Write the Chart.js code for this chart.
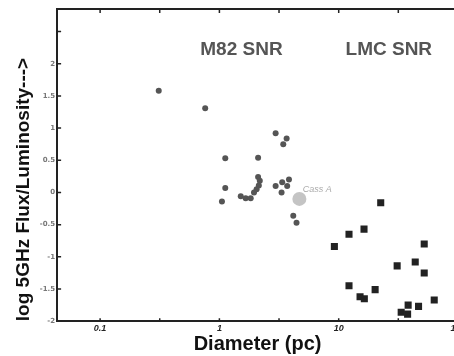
<!DOCTYPE html>
<html>
<head>
<meta charset="utf-8">
<script src="https://cdn.jsdelivr.net/npm/chart.js@4.4.1/dist/chart.umd.min.js"></script>
<style>
  html, body { margin: 0; padding: 0; background: #fff; overflow: hidden; }
  #grafico { display: block; }
</style>
</head>
<body>
<canvas id="grafico" width="470" height="356"></canvas>
<script>
// M82 SNR (circulos): diametro em pc, log fluxo
const m82Diametro = [0.31, 0.76, 1.12, 2.96, 3.66, 3.43, 2.11, 2.11, 2.18, 2.14, 2.05, 1.95, 1.12, 1.05, 1.51, 1.66, 1.83, 2.96, 3.36, 3.83, 3.70, 3.32, 4.16, 4.43];
const m82Fluxo    = [1.58, 1.31, 0.53, 0.92, 0.84, 0.75, 0.54, 0.24, 0.18, 0.11, 0.05, 0.00, 0.07, -0.14, -0.06, -0.09, -0.09, 0.10, 0.16, 0.20, 0.10, 0.00, -0.36, -0.47];

// LMC SNR (quadrados)
const lmcDiametro = [22.5, 12.2, 16.3, 9.2, 52.1, 43.8, 30.9, 52.1, 12.2, 20.2, 15.1, 16.4, 63.2, 46.7, 38.2, 33.4, 37.8];
const lmcFluxo    = [-0.16, -0.65, -0.57, -0.84, -0.80, -1.08, -1.14, -1.25, -1.45, -1.51, -1.62, -1.65, -1.67, -1.77, -1.75, -1.86, -1.89];

// Cas A
const cassDiametro = [4.68];
const cassFluxo = [-0.10];

const xTicks = [0.1, 0.316, 1, 3.16, 10, 31.6, 100];
const xRotulos = [0.1, 1, 10, 100];
const yTicks = [-2, -1.5, -1, -0.5, 0, 0.5, 1, 1.5, 2, 2.5];
const yRotulos = [-2, -1.5, -1, -0.5, 0, 0.5, 1, 1.5, 2];

function pontos(xs, ys) {
    return xs.map((x, i) => ({ x: x, y: ys[i] }));
}

// moldura com marcas para dentro + textos
const moldura = {
    id: 'moldura',
    afterDraw(chart) {
        const { ctx, chartArea, scales } = chart;
        const a = chartArea;
        ctx.save();
        ctx.strokeStyle = '#222';
        ctx.lineWidth = 2;
        ctx.beginPath();
        ctx.moveTo(a.left, a.top);
        ctx.lineTo(a.right, a.top);
        ctx.lineTo(a.right, a.bottom);
        ctx.stroke();

        ctx.lineWidth = 1.5;
        xTicks.forEach((v) => {
            const px = scales.x.getPixelForValue(v);
            ctx.beginPath();
            ctx.moveTo(px, a.bottom); ctx.lineTo(px, a.bottom - 3);
            ctx.moveTo(px, a.top); ctx.lineTo(px, a.top + 4);
            ctx.stroke();
        });
        yTicks.forEach((v) => {
            const py = scales.y.getPixelForValue(v);
            ctx.beginPath();
            ctx.moveTo(a.left, py); ctx.lineTo(a.left + 4, py);
            ctx.moveTo(a.right, py); ctx.lineTo(a.right - 4, py);
            ctx.stroke();
        });

        ctx.fillStyle = '#555';
        ctx.font = 'bold 19px "Liberation Sans", Arial, sans-serif';
        ctx.textAlign = 'center';
        ctx.textBaseline = 'middle';
        ctx.fillText('M82 SNR', scales.x.getPixelForValue(1.53), scales.y.getPixelForValue(2.22));
        ctx.fillText('LMC SNR', scales.x.getPixelForValue(26.3), scales.y.getPixelForValue(2.22));

        ctx.fillStyle = '#aaa';
        ctx.font = 'italic 9px "Liberation Sans", Arial, sans-serif';
        ctx.textAlign = 'left';
        ctx.fillText('Cass A', scales.x.getPixelForValue(5.0), scales.y.getPixelForValue(0.05));
        ctx.restore();
    }
};

let grafico = new Chart(document.getElementById('grafico'), {
    type: 'scatter',
    data: {
        datasets: [{
            label: 'Cass A',
            data: pontos(cassDiametro, cassFluxo),
            backgroundColor: '#c4c4c4',
            borderWidth: 0,
            pointRadius: 7
        },
        {
            label: 'M82 SNR',
            data: pontos(m82Diametro, m82Fluxo),
            backgroundColor: '#555',
            borderWidth: 0,
            pointRadius: 3
        },
        {
            label: 'LMC SNR',
            data: pontos(lmcDiametro, lmcFluxo),
            backgroundColor: '#222',
            borderWidth: 0,
            pointStyle: 'rect',
            pointRadius: 5
        }]
    },
    options: {
        responsive: false,
        animation: false,
        devicePixelRatio: 1,
        layout: { padding: { top: 9, right: 12, left: 12, bottom: 0 } },
        plugins: {
            legend: { display: false },
            tooltip: { enabled: false }
        },
        scales: {
            x: {
                type: 'logarithmic',
                min: 0.0436,
                max: 100,
                afterBuildTicks(scale) {
                    scale.ticks = xTicks.map((v) => ({ value: v }));
                },
                ticks: {
                    autoSkip: false,
                    maxRotation: 0,
                    padding: 2,
                    color: '#222',
                    font: { size: 9, style: 'italic', weight: 'bold', family: '"Liberation Sans", Arial' },
                    callback: (v) => xRotulos.includes(v) ? String(v) : ''
                },
                grid: { drawOnChartArea: false, drawTicks: false },
                border: { display: true, color: '#222', width: 2 },
                title: {
                    display: true,
                    text: 'Diameter (pc)',
                    color: '#111',
                    padding: { top: -4, bottom: 0 },
                    font: { size: 20, weight: 'bold', family: '"Liberation Sans", Arial' }
                }
            },
            y: {
                min: -2,
                max: 2.85,
                afterBuildTicks(scale) {
                    scale.ticks = yTicks.map((v) => ({ value: v }));
                },
                ticks: {
                    autoSkip: false,
                    padding: 2,
                    color: '#777',
                    font: { size: 7, weight: 'bold', family: '"DejaVu Sans"' },
                    callback: (v) => yRotulos.includes(v) ? String(v) : ''
                },
                grid: { drawOnChartArea: false, drawTicks: false },
                border: { display: true, color: '#222', width: 2 },
                title: {
                    display: true,
                    align: 'start',
                    text: 'log 5GHz Flux/Luminosity--->',
                    color: '#111',
                    padding: { top: 0, bottom: 3 },
                    font: { size: 19, weight: 'bold', family: '"Liberation Sans", Arial' }
                }
            }
        }
    },
    plugins: [moldura]
});
</script>
</body>
</html>
